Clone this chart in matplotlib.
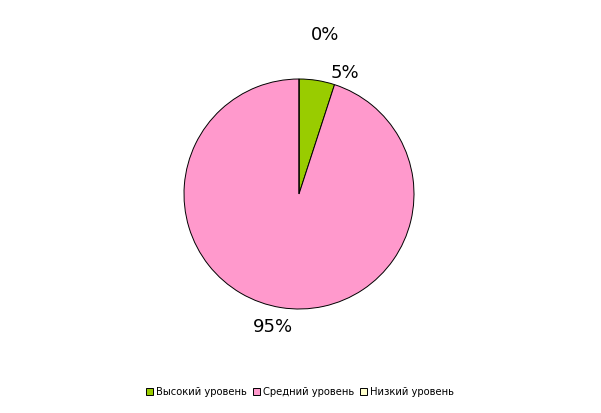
import matplotlib.pyplot as plt
import numpy as np

labels = ["Высокий уровень", "Средний уровень", "Низкий уровень"]
values = [5, 95, 0]
colors = ["#99CC00", "#FF99CC", "#FFFFCC"]
pct_labels = ["5%", "95%", "0%"]
# label positions in pie radius units (Excel style outside labels)
label_pos = [(0.40, 1.05), (-0.23, -1.16), (0.23, 1.38)]

fig = plt.figure(figsize=(6.01, 4.13), dpi=100)
W, H = 601, 413
cx, cy, r = 299, 194, 115
ax = fig.add_axes([(cx - r) / W, 1 - (cy + r) / H, 2 * r / W, 2 * r / H])

wedges, _ = ax.pie(values, colors=colors, startangle=90, counterclock=False,
                   radius=1, wedgeprops=dict(edgecolor="black", linewidth=0.7))
ax.set_xlim(-1, 1)
ax.set_ylim(-1, 1)
ax.set_aspect("equal")
ax.axis("off")

for txt, (x, y) in zip(pct_labels, label_pos):
    ax.text(x, y, txt, ha="center", va="center", fontsize=13, clip_on=False)

fig.legend(wedges, labels, loc="center", bbox_to_anchor=(300 / W, 1 - 392 / H),
           ncol=3, frameon=False, fontsize=7.2, handlelength=0.75, handleheight=0.75,
           handletextpad=0.3, columnspacing=0.55)

plt.savefig("out.png", dpi=100)
